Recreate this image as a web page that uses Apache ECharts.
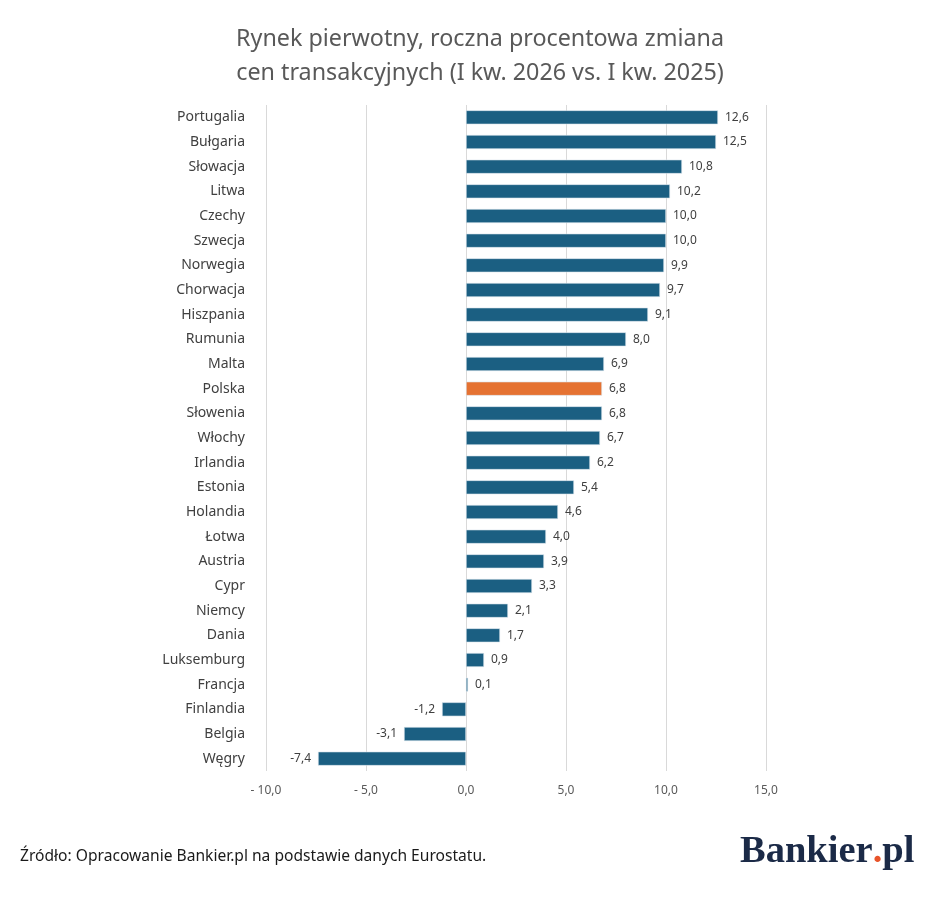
<!DOCTYPE html>
<html>
<head>
<meta charset="utf-8">
<script src="https://cdn.jsdelivr.net/npm/echarts@6/dist/echarts.min.js"></script>
<style>
  html, body { margin: 0; padding: 0; background: #fff; }
  #chart { width: 948px; height: 910px; }
</style>
</head>
<body>
<div id="chart"></div>
<script>
var countries = ['Portugalia', 'Bułgaria', 'Słowacja', 'Litwa', 'Czechy', 'Szwecja', 'Norwegia',
    'Chorwacja', 'Hiszpania', 'Rumunia', 'Malta', 'Polska', 'Słowenia', 'Włochy', 'Irlandia',
    'Estonia', 'Holandia', 'Łotwa', 'Austria', 'Cypr', 'Niemcy', 'Dania', 'Luksemburg',
    'Francja', 'Finlandia', 'Belgia', 'Węgry'];
var changes = [12.6, 12.5, 10.8, 10.2, 10.0, 10.0, 9.9, 9.7, 9.1, 8.0, 6.9, 6.8, 6.8, 6.7, 6.2,
    5.4, 4.6, 4.0, 3.9, 3.3, 2.1, 1.7, 0.9, 0.1, -1.2, -3.1, -7.4];
var highlight = 'Polska';

var blue = '#1b5f82';
var orange = '#e57232';

function fmt(v) {
    return v.toFixed(1).replace('.', ',');
}

var chart = echarts.init(document.getElementById('chart'));

var barData = changes.map(function (v, i) {
    return {
        value: v,
        itemStyle: {color: countries[i] === highlight ? orange : blue},
        label: {position: v < 0 ? 'left' : 'right'}
    };
});

var option = {
    backgroundColor: '#fff',
    animation: false,
    title: {
        text: 'Rynek pierwotny, roczna procentowa zmiana\ncen transakcyjnych (I kw. 2026 vs. I kw. 2025)',
        left: 475,
        top: 17,
        textAlign: 'center',
        textStyle: {
            fontFamily: 'Noto Sans',
            fontSize: 23.3,
            fontWeight: 'normal',
            color: '#595959',
            lineHeight: 34
        }
    },
    grid: {
        left: 266,
        right: 182,
        top: 105,
        bottom: 139
    },
    xAxis: {
        type: 'value',
        min: -10,
        max: 15,
        interval: 5,
        axisLine: {show: false},
        axisTick: {show: false},
        splitLine: {lineStyle: {color: '#d9d9d9', width: 1}},
        axisLabel: {
            margin: 14,
            fontFamily: 'Noto Sans',
            fontSize: 12,
            color: '#595959',
            formatter: function (v) {
                return v < 0 ? '- ' + fmt(-v) : fmt(v);
            }
        }
    },
    yAxis: {
        type: 'category',
        inverse: true,
        data: countries,
        axisLine: {show: false},
        axisTick: {show: false},
        axisLabel: {
            margin: 21,
            fontFamily: 'Noto Sans',
            fontSize: 14,
            color: '#404040'
        }
    },
    series: [{
        type: 'bar',
        data: barData,
        barWidth: 14,
        itemStyle: {borderColor: '#dbe6ee', borderWidth: 0.6},
        label: {
            show: true,
            distance: 7,
            fontFamily: 'Noto Sans',
            fontSize: 12,
            color: '#404040',
            formatter: function (p) { return fmt(p.value); }
        }
    }],
    graphic: [{
        type: 'text',
        left: 20,
        top: 849,
        style: {
            text: 'Źródło: Opracowanie Bankier.pl na podstawie danych Eurostatu.',
            font: '15.6px "Noto Sans"',
            fill: '#1a1a1a'
        }
    }, {
        type: 'text',
        left: 740,
        top: 833,
        style: {
            text: '{b|Bankier}{d|.}{b|pl}',
            rich: {
                b: {fontFamily: 'Liberation Serif', fontWeight: 'bold', fontSize: 38.5, fill: '#1b2a47'},
                d: {fontFamily: 'Liberation Serif', fontWeight: 'bold', fontSize: 38.5, fill: '#e8542a'}
            }
        }
    }]
};

chart.setOption(option);
</script>
</body>
</html>
